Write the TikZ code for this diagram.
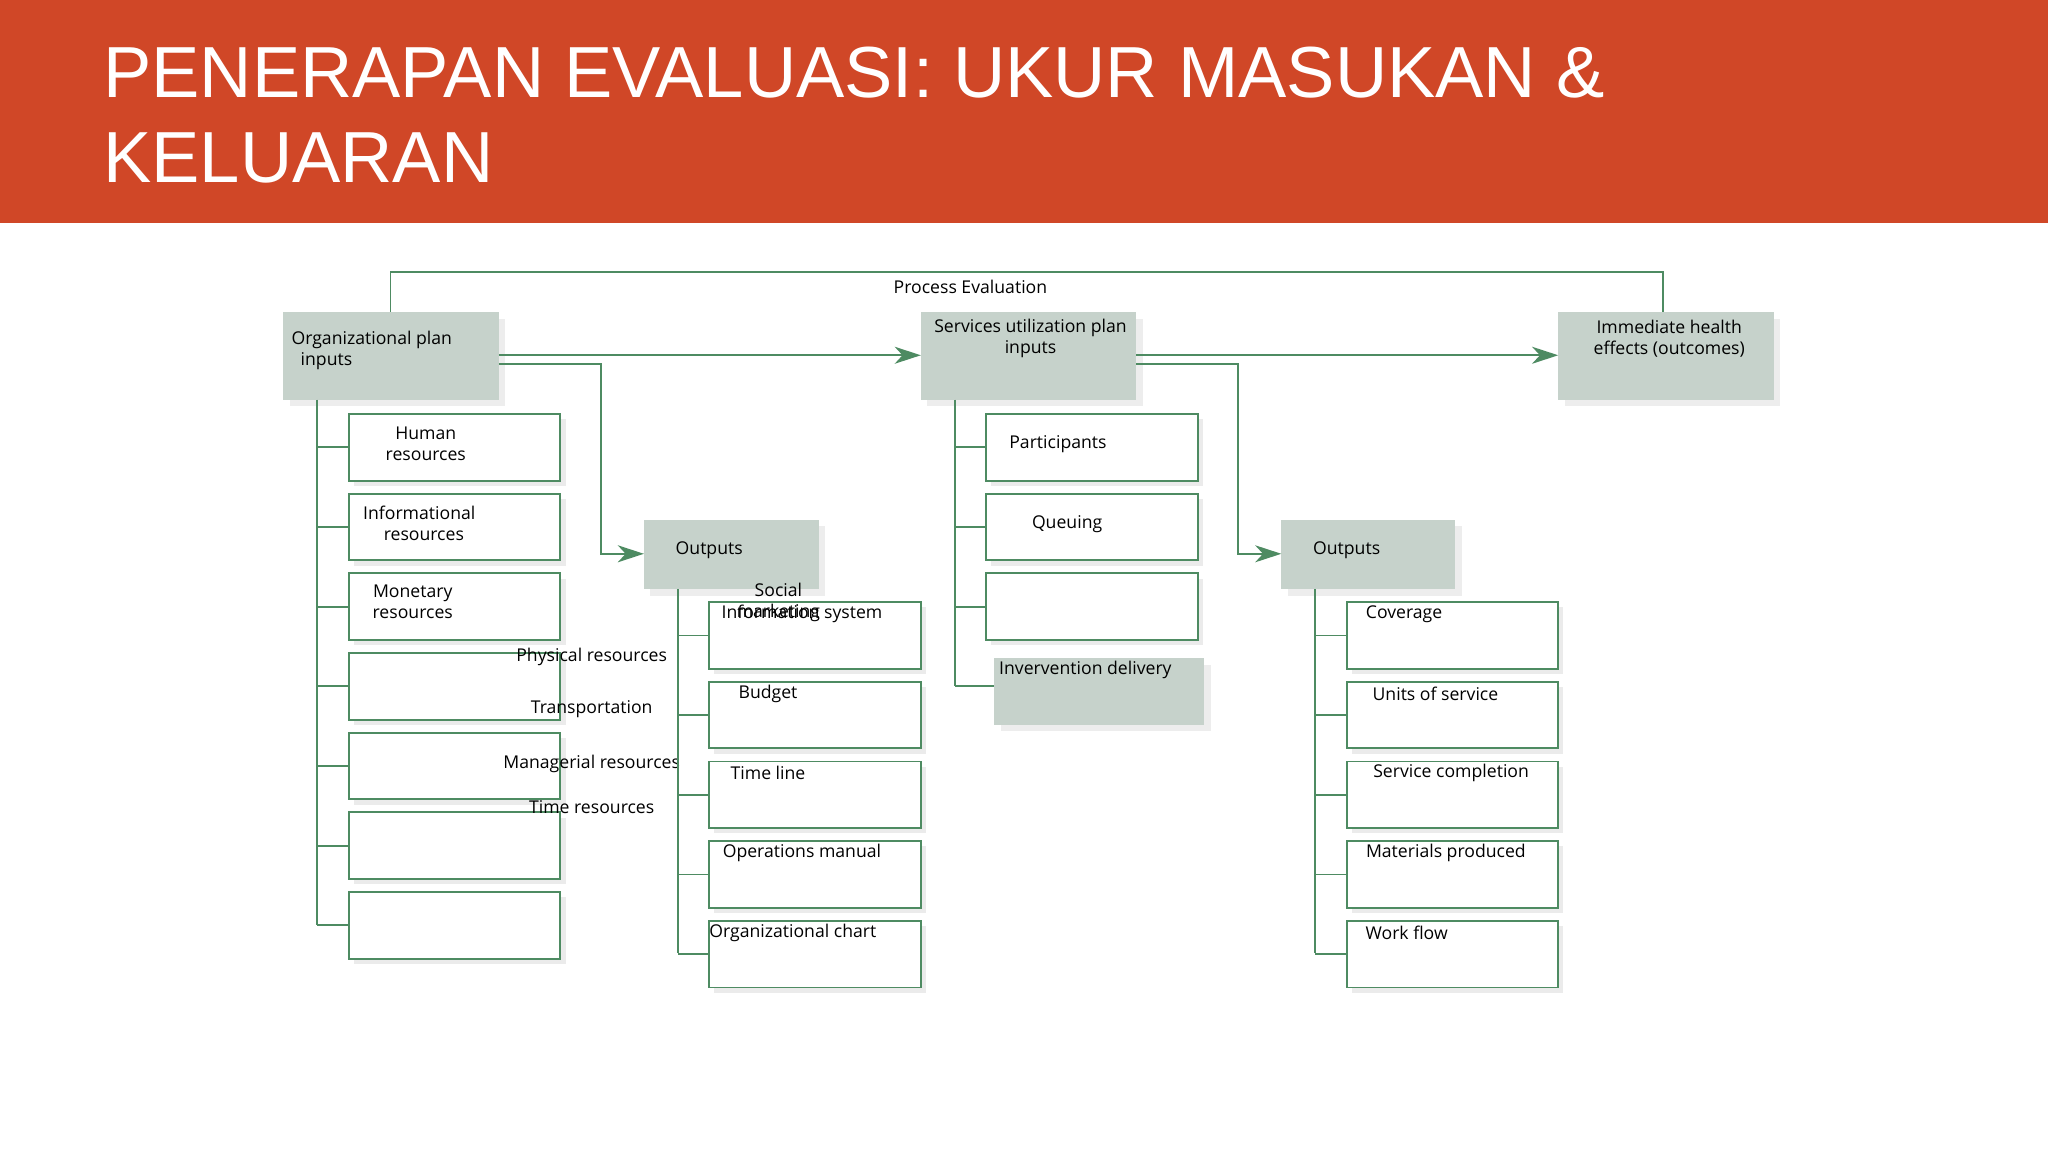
\documentclass[tikz,border=0pt]{standalone}
\usepackage{fontspec}
\setmainfont{Open Sans}
\newfontfamily\titlefont{Liberation Sans}
\usetikzlibrary{arrows.meta}
\definecolor{band}{HTML}{D04727}
\definecolor{ln}{HTML}{4E8B62}
\definecolor{bx}{HTML}{C6D2CB}
\tikzset{x=1pt,y=-1pt,
 wire/.style={draw=ln,line width=1.4pt},
 arr/.style={wire,-{Stealth[length=20pt,width=13pt,inset=6pt]}},
 lbl/.style={font=\fontsize{13.5}{16}\selectfont,inner sep=0pt,align=center},
 lbll/.style={font=\fontsize{13.5}{16}\selectfont,inner sep=0pt,align=left}}
\newcommand{\wbox}[5]{% name x1 y1 x2 y2
 \fill[black!8] (#2+4,#3+4) rectangle (#4+4,#5+4);
 \draw[wire,fill=white] (#2,#3) rectangle (#4,#5);
 \coordinate (#1) at (#2,{(#3+#5)/2});}
\newcommand{\gbox}[5]{%
 \fill[black!7] (#2+5,#3+5) rectangle (#4+5,#5+5);
 \fill[bx] (#2,#3) rectangle (#4,#5);
 \coordinate (#1) at (#2,{(#3+#5)/2});}
\begin{document}
\begin{tikzpicture}
\useasboundingbox (0,0) rectangle (1568,882);
\fill[white] (0,0) rectangle (1568,882);
\fill[band] (0,0) rectangle (1568,171);
\node[anchor=base west,inner sep=0pt,text=white,font=\titlefont\fontsize{55.4}{66}\selectfont] (t1) at (79,75) {PENERAPAN EVALUASI: UKUR MASUKAN \&};
\node[anchor=base west,inner sep=0pt,text=white,font=\titlefont\fontsize{55.4}{66}\selectfont] (t2) at (79,140) {KELUARAN};
% process evaluation
\coordinate (pe1) at (299,239); \coordinate (pe2) at (1273,239);
\draw[wire] (pe1) -- (299,208) -- (1273,208) -- (pe2);
\node[lbl] (pel) at (743,220) {Process Evaluation};
% top boxes
\gbox{org}{217}{239}{382}{306}
\gbox{svc}{705}{239}{870}{306}
\gbox{imm}{1193}{239}{1358}{306}
\node[lbll,anchor=north west] (orgt) at (223,253) {Organizational plan\\\ \ inputs};
\node[lbl] (svct) at (789,259) {Services utilization plan\\inputs};
\node[lbl] (immt) at (1278,259) {Immediate health\\effects (outcomes)};
\coordinate (orgR) at (382,272); \coordinate (svcL) at (705,272);
\coordinate (svcR) at (870,272); \coordinate (immL) at (1193,272);
\draw[arr] (orgR) -- (svcL);
\draw[arr] (svcR) -- (immL);
% outputs boxes
\gbox{out1}{493}{398}{627}{451}
\gbox{out2}{981}{398}{1114}{451}
\node[lbl] (o1t) at (543,421) {Outputs};
\node[lbl] (o2t) at (1031,421) {Outputs};
\coordinate (e1) at (382,279); \coordinate (e2) at (870,279);
\draw[arr] (e1) -- (460,279) -- (460,424) -- (493,424);
\draw[arr] (e2) -- (948,279) -- (948,424) -- (981,424);
% left tree
\draw[wire] (243,306) -- (243,708);
\foreach \y [count=\i] in {317,378,439,500,561,622,683}{
 \draw[wire] (243,\y+25.5) -- (267,\y+25.5);
 \wbox{L\i}{267}{\y}{429}{\y+51}}
\node[lbl] (h) at (326,340) {Human\\resources};
\node[lbl] (inf) at (321,401) {Informational\\\ \ resources};
\node[lbl] (mon) at (316,461) {Monetary\\resources};
\node[lbl] (ph) at (453,503) {Physical resources};
\node[lbl] (tr) at (453,543) {Transportation};
\node[lbl] (man) at (453,585) {Managerial resources};
\node[lbl] (tim) at (453,618) {Time resources};
% middle tree
\draw[wire] (519,451) -- (519,730);
\foreach \y [count=\i] in {461,522,583,644,705}{
 \draw[wire] (519,\y+25.5) -- (543,\y+25.5);
 \wbox{M\i}{543}{\y}{705}{\y+51}
 \draw[wire] (1007,\y+25.5) -- (1031,\y+25.5);
 \wbox{R\i}{1031}{\y}{1193}{\y+51}}
\draw[wire] (1007,451) -- (1007,730);
\node[lbl] (soc) at (596,461) {Social\\marketing};
\node[lbl] (is) at (614,470) {Information system};
\node[lbl] (bud) at (588,531) {Budget};
\node[lbl] (tl) at (588,592) {Time line};
\node[lbl] (om) at (614,653) {Operations manual};
\node[lbl] (oc) at (607,714) {Organizational chart};
\node[lbl] (cov) at (1075,470) {Coverage};
\node[lbl] (uos) at (1099,531) {Units of service};
\node[lbl] (sc) at (1111,592) {Service completion};
\node[lbl] (mp) at (1107,653) {Materials produced};
\node[lbl] (wf) at (1077,714) {Work flow};
% services tree
\draw[wire] (731,306) -- (731,525);
\foreach \y [count=\i] in {317,378,439}{
 \draw[wire] (731,\y+25.5) -- (755,\y+25.5);
 \wbox{S\i}{755}{\y}{917}{\y+51}}
\gbox{iv}{761}{504}{922}{555}
\draw[wire] (731,525) -- (761,525);
\node[lbl] (par) at (810,340) {Participants};
\node[lbl] (que) at (817,401) {Queuing};
\node[lbl] (ivt) at (831,513) {Invervention delivery};
\end{tikzpicture}
\end{document}
